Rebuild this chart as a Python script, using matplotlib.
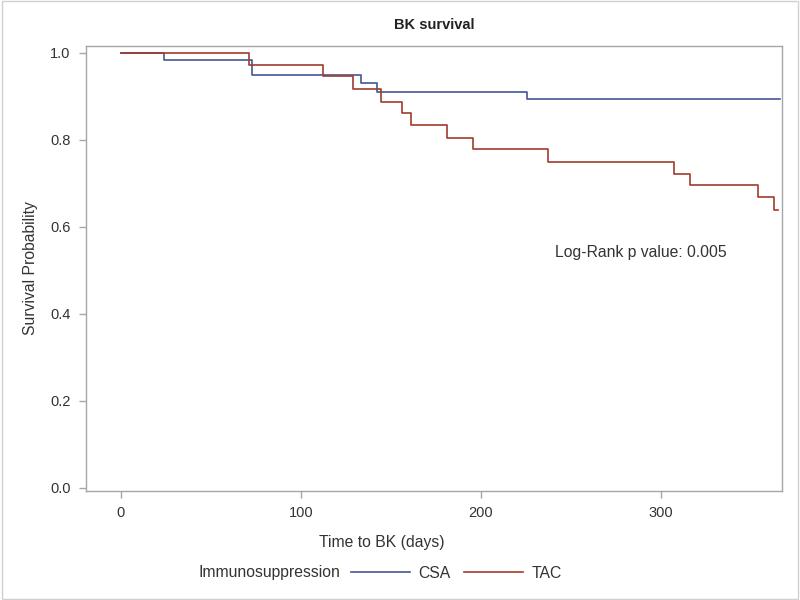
import matplotlib
matplotlib.use("Agg")
import matplotlib.pyplot as plt
from matplotlib.lines import Line2D
from matplotlib.patches import Rectangle

plt.rcParams['font.family'] = ['Liberation Sans', 'DejaVu Sans']

# Kaplan-Meier step data
csa_time = [0, 24, 73, 133.5, 142.5, 225.5, 366]
csa_surv = [1.0, 0.982, 0.948, 0.930, 0.910, 0.894, 0.894]

tac_time = [0, 71, 112.5, 129, 144.5, 156, 161, 181, 195.5, 237, 307, 316, 354, 363, 365]
tac_surv = [1.0, 0.972, 0.946, 0.916, 0.887, 0.862, 0.833, 0.804, 0.779, 0.749,
            0.721, 0.695, 0.667, 0.638, 0.638]

x_ticks = [0, 100, 200, 300]
y_ticks = [0.0, 0.2, 0.4, 0.6, 0.8, 1.0]

blue = '#445694'
red = '#A23A2E'
axis_col = '#a6a6a6'
text_col = '#333333'
fs = 11.3

fig = plt.figure(figsize=(8, 6), dpi=100)
ax = fig.add_axes([0.1075, 0.1817, 0.87, 0.7417])

ax.step(csa_time, csa_surv, where='post', color=blue, lw=1.2)
ax.step(tac_time, tac_surv, where='post', color=red, lw=1.2)

ax.set_xlim(-19.3, 367.2)
ax.set_ylim(-0.008, 1.0152)
ax.set_xticks(x_ticks)
ax.set_yticks(y_ticks)
ax.set_yticklabels(['%.1f' % v for v in y_ticks])

for s in ax.spines.values():
    s.set_color(axis_col)
    s.set_linewidth(1.0)
ax.tick_params(colors=axis_col, labelcolor=text_col, labelsize=10.5,
               length=5, width=1, direction='out', pad=6)

ax.set_title('BK survival', fontsize=10.5, fontweight='bold', color='#222222', pad=12)
ax.set_ylabel('Survival Probability', fontsize=fs, color=text_col, labelpad=9)
fig.text(382 / 800, 1 - 543 / 600, 'Time to BK (days)', fontsize=fs,
         color=text_col, ha='center', va='center')

ax.text(241.3, 0.54, 'Log-Rank p value: 0.005', fontsize=fs, color=text_col,
        va='center', ha='left')

# legend
fig.text(199 / 800, 1 - 573 / 600, 'Immunosuppression', fontsize=fs,
         color=text_col, ha='left', va='center')
handles = [Line2D([], [], color=blue, lw=1.2), Line2D([], [], color=red, lw=1.2)]
fig.legend(handles, ['CSA', 'TAC'], ncol=2, frameon=False, loc='center',
           bbox_to_anchor=(456.5 / 800, 1 - 573 / 600), fontsize=fs,
           handlelength=3.76, handletextpad=0.57, columnspacing=0.83,
           labelcolor=text_col)

fig.patches.append(Rectangle((0.002, 0.002), 0.996, 0.996, transform=fig.transFigure,
                             fill=False, ec='#d0d0d0', lw=1))

fig.savefig('out.png', dpi=100)
